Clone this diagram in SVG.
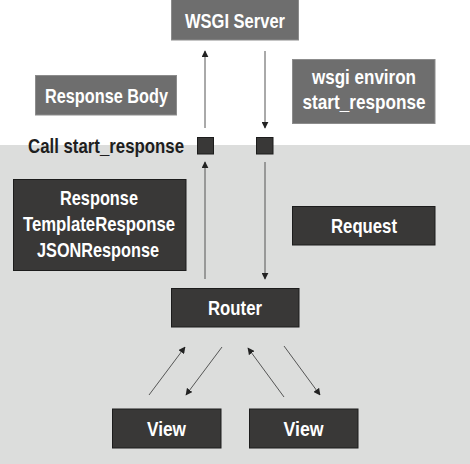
<svg xmlns="http://www.w3.org/2000/svg" width="470" height="464" viewBox="0 0 470 464">
<style>
.bg{fill:#ffffff}
.zone{fill:#dcdddc}
.g{fill:#6e6e6e;stroke:#8c8c8c;stroke-width:1}
.d{fill:#393837;stroke:#1c1c1c;stroke-width:1}
.t{font-family:"Liberation Sans",Arial,sans-serif;font-weight:bold;font-size:20.5px;fill:#ffffff;text-anchor:middle}
.k{font-family:"Liberation Sans",Arial,sans-serif;font-weight:bold;font-size:20.5px;fill:#1e1e1e}
.c{stroke:#555555;stroke-width:1;fill:none;marker-end:url(#ah)}
</style>
<defs>
<marker id="ah" viewBox="0 0 10 10" refX="9" refY="5" markerWidth="7" markerHeight="7" markerUnits="userSpaceOnUse" orient="auto">
<path d="M0,0 L10,5 L0,10 z" fill="#222222"/>
</marker>
</defs>
<rect class="bg" x="0" y="0" width="470" height="464"/>
<rect class="zone" x="0" y="145" width="470" height="319"/>

<g id="connectors">
<line class="c" x1="205" y1="128" x2="205" y2="51"/>
<line class="c" x1="265" y1="51" x2="265" y2="128"/>
<line class="c" x1="205" y1="279" x2="205" y2="162"/>
<line class="c" x1="265" y1="162" x2="265" y2="279"/>
<line class="c" x1="149" y1="395" x2="185" y2="347"/>
<line class="c" x1="222" y1="347" x2="186" y2="395"/>
<line class="c" x1="284" y1="397" x2="248" y2="348"/>
<line class="c" x1="284" y1="346" x2="320" y2="395"/>
</g>

<g id="wsgi-server">
<rect class="g" x="171.5" y="-1" width="127" height="41"/>
<text class="t" x="235" y="28" textLength="100" lengthAdjust="spacingAndGlyphs">WSGI Server</text>
</g>

<g id="response-body">
<rect class="g" x="35.5" y="75.5" width="141" height="39.5"/>
<text class="t" x="106.5" y="103" textLength="123" lengthAdjust="spacingAndGlyphs">Response Body</text>
</g>

<g id="wsgi-environ">
<rect class="g" x="292.5" y="59.5" width="142.5" height="64"/>
<text class="t" x="364" y="84" textLength="104" lengthAdjust="spacingAndGlyphs">wsgi environ</text>
<text class="t" x="364" y="109" textLength="123" lengthAdjust="spacingAndGlyphs">start_response</text>
</g>

<g id="call-start-response">
<text class="k" x="28" y="153" textLength="156" lengthAdjust="spacingAndGlyphs">Call start_response</text>
</g>

<g id="port-left">
<rect class="d" x="197.5" y="137.5" width="16" height="16.5"/>
</g>
<g id="port-right">
<rect class="d" x="256.5" y="137.5" width="16.5" height="16.5"/>
</g>

<g id="response-types">
<rect class="d" x="13.5" y="179.5" width="172.5" height="91"/>
<text class="t" x="99" y="205" textLength="78" lengthAdjust="spacingAndGlyphs">Response</text>
<text class="t" x="99" y="231" textLength="152" lengthAdjust="spacingAndGlyphs">TemplateResponse</text>
<text class="t" x="98" y="257" textLength="122" lengthAdjust="spacingAndGlyphs">JSONResponse</text>
</g>

<g id="request">
<rect class="d" x="292.5" y="206.5" width="142.5" height="38.5"/>
<text class="t" x="364" y="233" textLength="66" lengthAdjust="spacingAndGlyphs">Request</text>
</g>

<g id="router">
<rect class="d" x="171.5" y="288.5" width="127.5" height="38.5"/>
<text class="t" x="235" y="315" textLength="54" lengthAdjust="spacingAndGlyphs">Router</text>
</g>

<g id="view-1">
<rect class="d" x="112.5" y="409" width="108.5" height="39"/>
<text class="t" x="166.5" y="436" textLength="39" lengthAdjust="spacingAndGlyphs">View</text>
</g>

<g id="view-2">
<rect class="d" x="249.5" y="409" width="108.5" height="39"/>
<text class="t" x="303.5" y="436" textLength="40" lengthAdjust="spacingAndGlyphs">View</text>
</g>
</svg>
